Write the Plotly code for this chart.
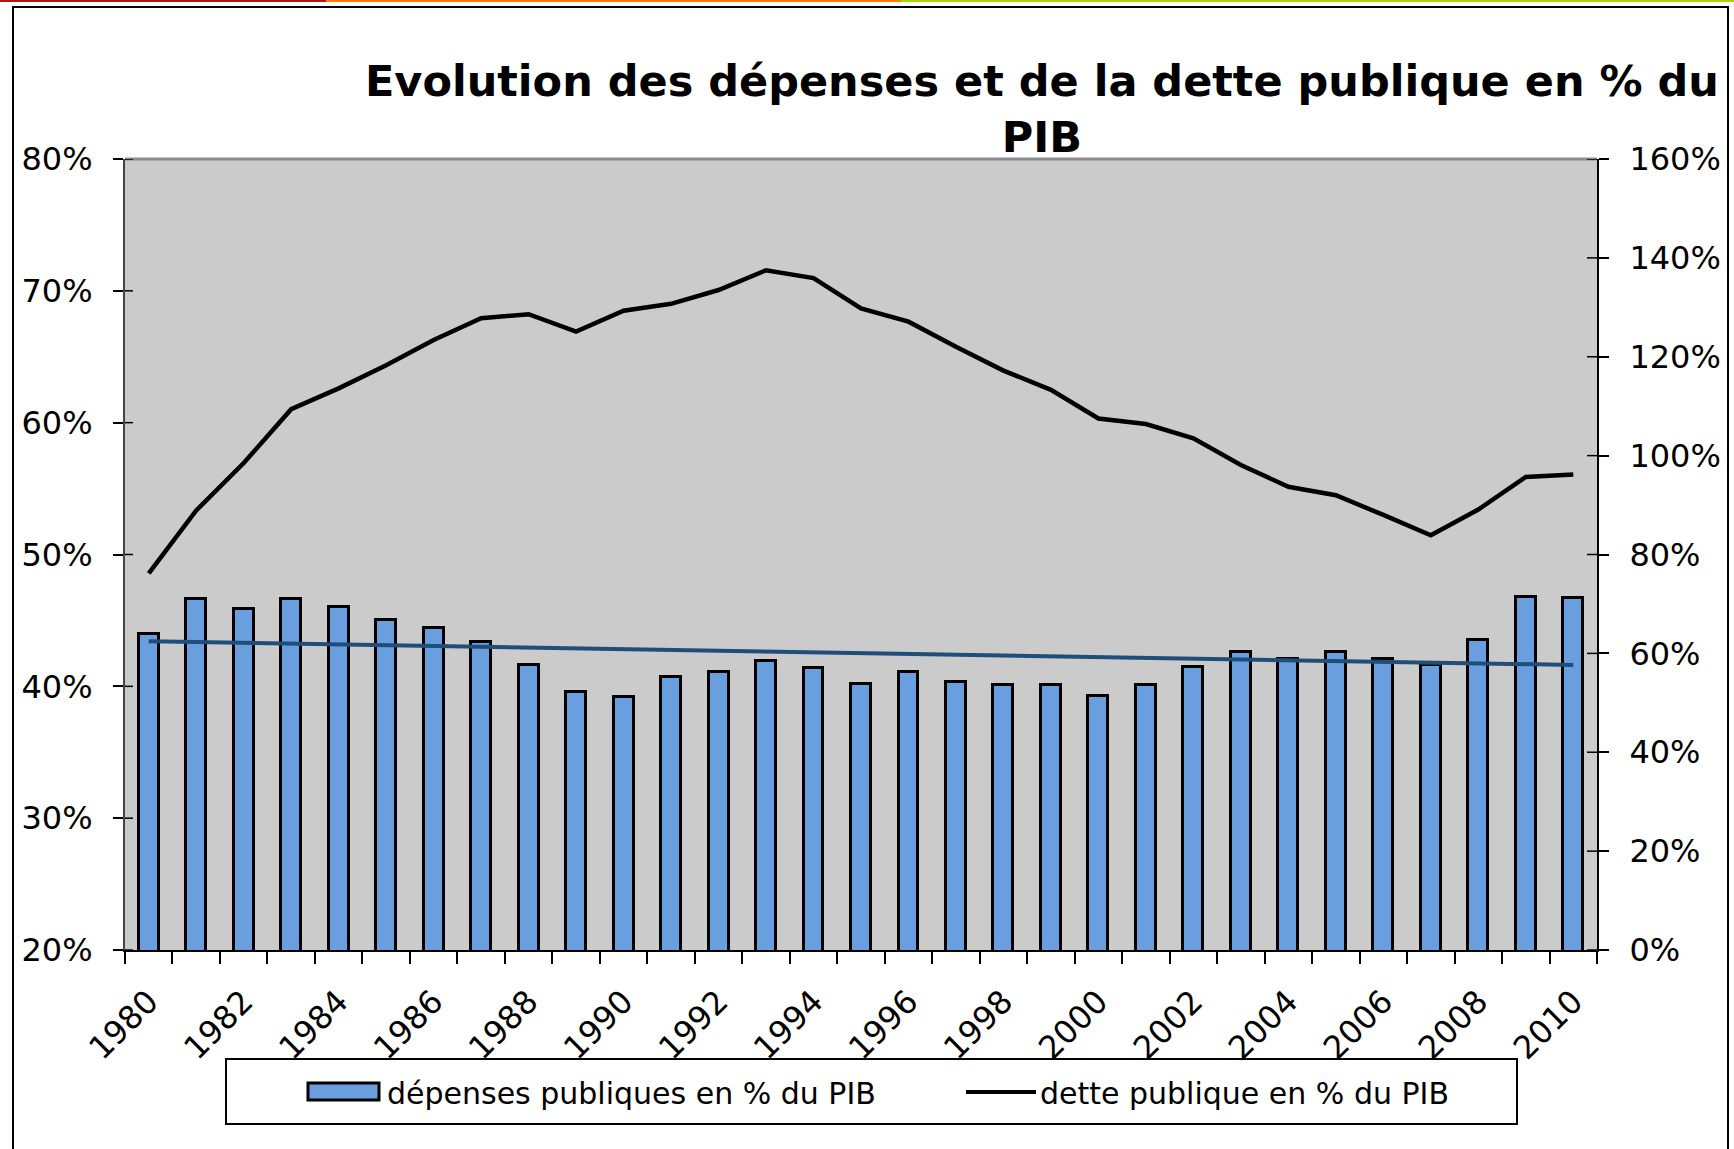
import numpy as np
import plotly.graph_objects as go

# ---------------- data ----------------
years = list(range(1980, 2011))
depenses = [44.0, 46.6, 45.9, 46.6, 46.0, 45.0, 44.4, 43.4, 41.6, 39.6,
            39.2, 40.7, 41.1, 41.9, 41.4, 40.2, 41.1, 40.3, 40.1, 40.1,
            39.3, 40.1, 41.5, 42.6, 42.1, 42.6, 42.1, 41.6, 43.5, 46.8,
            46.7]
dette = [76.2, 88.9, 98.5, 109.4, 113.6, 118.3, 123.4, 127.8, 128.6, 125.1,
         129.3, 130.7, 133.5, 137.5, 135.9, 129.8, 127.1, 122.0, 117.2, 113.3,
         107.5, 106.4, 103.5, 98.1, 93.7, 92.0, 88.0, 83.9, 89.1, 95.7,
         96.2]
x_tick_years = years[::2]
x_tick_labels = [str(y) for y in x_tick_years]
left_ticks = [20, 30, 40, 50, 60, 70, 80]
left_tick_labels = ["20%", "30%", "40%", "50%", "60%", "70%", "80%"]
right_ticks = [0, 20, 40, 60, 80, 100, 120, 140, 160]
right_tick_labels = ["0%", "20%", "40%", "60%", "80%", "100%", "120%", "140%", "160%"]
title_text = "<b>Evolution des dépenses et de la dette publique en % du<br>PIB</b>"
legend_labels = ["dépenses publiques en % du PIB", "dette publique en % du PIB"]

# linear trend of public spending (Excel-style trendline)
coef = np.polyfit(years, depenses, 1)
trend = list(np.polyval(coef, years))

# ---------------- layout geometry ----------------
W, H = 1734, 1149
L, R, T, B = 125, 1597, 159, 950   # plot area in px
PW, PH = R - L, B - T

def px(x):
    return (x - L) / PW

def py(y):
    return (B - y) / PH

FONT = "DejaVu Sans"
BLUE = "#699FDE"

fig = go.Figure()
fig.add_trace(go.Bar(x=years, y=depenses, width=0.42, marker=dict(color=BLUE, line=dict(color="black", width=3)),
                     name=legend_labels[0], showlegend=False))
fig.add_trace(go.Scatter(x=years, y=trend, mode="lines", line=dict(color="#1F4E79", width=4),
                         showlegend=False, hoverinfo="skip"))
fig.add_trace(go.Scatter(x=years, y=dette, mode="lines", line=dict(color="black", width=4.5),
                         name=legend_labels[1], yaxis="y2", showlegend=False))

fig.update_layout(
    width=W, height=H,
    margin=dict(l=L, r=W - R, t=T, b=H - B, autoexpand=False),
    paper_bgcolor="white", plot_bgcolor="#CBCBCB",
    font=dict(family=FONT, size=32, color="black"),
    showlegend=False,
    bargap=0,
    xaxis=dict(range=[1979.5, 2010.5], tickmode="array", tickvals=x_tick_years, ticktext=x_tick_labels,
               tickangle=-45, ticks="outside", ticklen=0, tickcolor="black", ticklabelstandoff=18,
               showline=True, linecolor="black", linewidth=2, showgrid=False, zeroline=False,
               minor=dict(tickmode="array", tickvals=[y - 0.5 for y in years] + [2010.5], ticks="outside",
                          ticklen=12, tickwidth=1.5, tickcolor="black", showgrid=False),
               tickfont=dict(size=32)),
    yaxis=dict(range=[20, 80], tickmode="array", tickvals=left_ticks, ticktext=left_tick_labels,
               ticks="outside", ticklen=10, tickwidth=1.5, tickcolor="black", ticklabelstandoff=14,
               showline=True, linecolor="#444444", linewidth=2, showgrid=False, zeroline=False,
               tickfont=dict(size=32)),
    yaxis2=dict(range=[0, 160], overlaying="y", side="right", tickmode="array", tickvals=right_ticks,
                ticktext=right_tick_labels, ticks="outside", ticklen=10, tickwidth=1.5, tickcolor="black",
                ticklabelstandoff=14, showline=True, linecolor="black", linewidth=2, showgrid=False,
                zeroline=False, tickfont=dict(size=32)),
)

shapes = []
# top border of plot area (grey)
shapes.append(dict(type="line", xref="paper", yref="paper", x0=0, x1=1, y0=1, y1=1,
                   line=dict(color="#8C8C8C", width=3)))
# inner halves of the cross tick marks on the value axes
for v in left_ticks:
    shapes.append(dict(type="line", xref="paper", yref="y", x0=0, x1=px(L + 8), y0=v, y1=v,
                       line=dict(color="black", width=1.5)))
for v in right_ticks:
    shapes.append(dict(type="line", xref="paper", yref="y2", x0=px(R - 10), x1=1, y0=v, y1=v,
                       line=dict(color="black", width=1.5)))
# outer frame
shapes.append(dict(type="rect", xref="paper", yref="paper", x0=px(13), x1=px(1728), y0=py(1165), y1=py(7),
                   line=dict(color="black", width=2), fillcolor="rgba(0,0,0,0)", layer="below"))
# top coloured strip
for c, a, b in [("#B01515", 0, 326), ("#FF8000", 326, 901), ("#A8D400", 901, 1734)]:
    shapes.append(dict(type="rect", xref="paper", yref="paper", x0=px(a), x1=px(b), y0=py(2), y1=py(0),
                       line=dict(width=0), fillcolor=c))
# legend box
shapes.append(dict(type="rect", xref="paper", yref="paper", x0=px(226), x1=px(1517), y0=py(1124), y1=py(1059),
                   line=dict(color="black", width=2), fillcolor="white"))
# legend swatches
shapes.append(dict(type="rect", xref="paper", yref="paper", x0=px(308), x1=px(379), y0=py(1100), y1=py(1083),
                   line=dict(color="black", width=3), fillcolor=BLUE))
shapes.append(dict(type="line", xref="paper", yref="paper", x0=px(966), x1=px(1036), y0=py(1092), y1=py(1092),
                   line=dict(color="black", width=4)))
fig.update_layout(shapes=shapes)

annotations = [
    dict(text=title_text, xref="paper", yref="paper", x=px(1042), y=py(54), xanchor="center", yanchor="top",
         showarrow=False, font=dict(family=FONT, size=43, color="black"), align="center"),
    dict(text=legend_labels[0], xref="paper", yref="paper", x=px(385), y=py(1093), xanchor="left",
         yanchor="middle", showarrow=False, font=dict(family=FONT, size=30, color="black")),
    dict(text=legend_labels[1], xref="paper", yref="paper", x=px(1038), y=py(1093), xanchor="left",
         yanchor="middle", showarrow=False, font=dict(family=FONT, size=30, color="black")),
]
fig.update_layout(annotations=annotations)

fig.write_html("out.html", config={"displayModeBar": False},
               post_script="document.body.style.margin='0';document.body.style.overflow='hidden';")
